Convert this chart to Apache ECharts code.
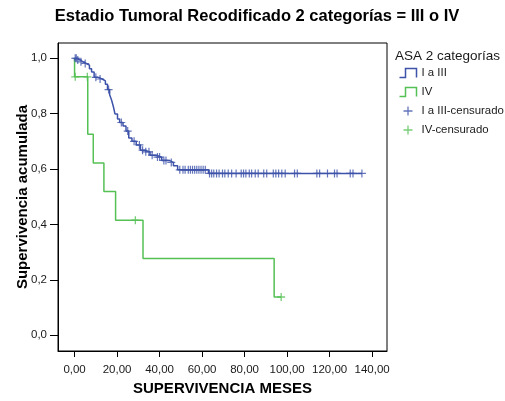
<!DOCTYPE html>
<html><head><meta charset="utf-8">
<script src="https://cdn.jsdelivr.net/npm/echarts@6/dist/echarts.min.js"></script>
<style>html,body{margin:0;padding:0;background:#fff}#c{width:505px;height:401px}</style>
</head><body><div id="c"></div>
<script>
// Kaplan-Meier step data: event times and survival after each event
var blueT = [0, 1, 2.5, 4, 5.5, 7, 8, 9.2, 11, 13, 14.5, 15.5, 16.5, 17.4, 18.3, 19, 20.2, 21.2, 22.8, 24.2, 25.5, 27, 29, 31, 33, 35.5, 38.5, 41, 44.5, 46.5, 48.5, 63, 135.2];
var blueS = [1.0, 0.994, 0.987, 0.981, 0.975, 0.962, 0.950, 0.931, 0.925, 0.918, 0.906, 0.887, 0.868, 0.849, 0.824, 0.799, 0.781, 0.768, 0.755, 0.737, 0.712, 0.700, 0.687, 0.668, 0.662, 0.650, 0.643, 0.631, 0.624, 0.612, 0.597, 0.584, 0.584];
var blueCens = [0.3, 0.8, 1.5, 3, 5, 10, 12, 16, 22, 25, 28, 30.5, 32, 33.5, 35, 36.5, 39, 40, 42, 43, 45.5, 49.5, 51, 52, 53.5, 54.5, 55.5, 56.5, 57.5, 58.5, 59.5, 60.5, 61.5,
  63.5, 64.5, 65.5, 66.8, 68, 69.6, 70.7, 72.3, 73.9, 76, 78.4, 79.5, 80.6, 82.2, 83.3, 85, 86.4, 89, 90.4, 93.5, 94.7, 96, 97.5, 99.1, 103.5, 104.8, 114, 115.3, 119, 122.3, 123.5, 129.7, 131, 135.2];
var greenT = [0, 0, 6.2, 8.8, 13.8, 19.3, 32.2, 93.9, 97.2];
var greenS = [1.0, 0.933, 0.726, 0.622, 0.519, 0.415, 0.277, 0.138, 0.138];
var greenCens = [0.3, 6.0, 28.6, 97.2];
var xTicks = [0, 20, 40, 60, 80, 100, 120, 140];
var yTicks = [0, 0.2, 0.4, 0.6, 0.8, 1.0];
var seriesNames = ['I a III', 'IV', 'I a III-censurado', 'IV-censurado'];

function zip(a, b) { return a.map(function (v, i) { return [v, b[i]]; }); }
function survAt(T, S, t) { var s = S[0]; for (var i = 0; i < T.length; i++) { if (T[i] <= t) s = S[i]; } return s; }
function censPts(T, S, C) { return C.map(function (t) { return [t, survAt(T, S, t)]; }); }

var BLUE = '#3d52a9', GREEN = '#55c155';
var stepIcon = 'path://M0,9L6,9L6,0L17,0L17,9';
var plusIcon = 'path://M0,5L10,5M5,0L5,10';
var plusSym = 'path://M0,4L8,4M4,0L4,8';
var FONT = 'Liberation Sans';

var chart = echarts.init(document.getElementById('c'));
chart.setOption({
  animation: false,
  backgroundColor: '#fff',
  title: [{
    text: 'Estadio Tumoral Recodificado 2 categorías = III o IV',
    left: 257, top: 8, textAlign: 'center', padding: 0,
    textStyle: { fontFamily: FONT, fontSize: 16.5, fontWeight: 'bold', color: '#000' }
  }, {
    text: 'ASA 2 categorías', left: 395, top: 49, padding: 0,
    textStyle: { fontFamily: FONT, fontSize: 13.5, fontWeight: 'normal', color: '#1a1a1a' }
  }],
  legend: {
    orient: 'vertical', left: 397, top: 66, padding: 0, itemWidth: 17, itemHeight: 9, itemGap: 5,
    textStyle: { fontFamily: FONT, fontSize: 11.4, color: '#1a1a1a' },
    data: [
      { name: seriesNames[0], icon: stepIcon, itemStyle: { color: 'none', borderColor: BLUE, borderWidth: 1.5 } },
      { name: seriesNames[1], icon: stepIcon, itemStyle: { color: 'none', borderColor: GREEN, borderWidth: 1.5 } },
      { name: seriesNames[2], icon: plusIcon, itemStyle: { color: 'none', borderColor: BLUE, borderWidth: 1.3 } },
      { name: seriesNames[3], icon: plusIcon, itemStyle: { color: 'none', borderColor: GREEN, borderWidth: 1.3 } }
    ]
  },
  grid: { left: 58, right: 118, top: 43, bottom: 50, show: true, borderColor: '#000', borderWidth: 1 },
  xAxis: {
    type: 'value', min: -7.8, max: 147,
    name: 'SUPERVIVENCIA MESES', nameLocation: 'middle', nameGap: 30, nameMoveOverlap: false,
    nameTextStyle: { fontFamily: FONT, fontSize: 15, fontWeight: 'bold', color: '#000' },
    axisLine: { show: true, onZero: false, lineStyle: { color: '#000' } },
    axisTick: { show: true, length: 6, customValues: xTicks, lineStyle: { color: '#000' } },
    axisLabel: { customValues: xTicks, margin: 13, fontFamily: FONT, fontSize: 11.5, color: '#1a1a1a',
      formatter: function (v) { return v.toFixed(2).replace('.', ','); } },
    splitLine: { show: false }
  },
  yAxis: {
    type: 'value', min: -0.057, max: 1.055,
    name: 'Supervivencia acumulada', nameLocation: 'middle', nameGap: 28, nameMoveOverlap: false,
    nameTextStyle: { fontFamily: FONT, fontSize: 15, fontWeight: 'bold', color: '#000' },
    axisLine: { show: true, onZero: false, lineStyle: { color: '#000' } },
    axisTick: { show: true, length: 8, customValues: yTicks, lineStyle: { color: '#000' } },
    axisLabel: { customValues: yTicks, margin: 11, fontFamily: FONT, fontSize: 11.5, color: '#1a1a1a',
      formatter: function (v) { return v.toFixed(1).replace('.', ','); } },
    splitLine: { show: false }
  },
  series: [
    { name: seriesNames[1], type: 'line', step: 'end', data: zip(greenT, greenS), showSymbol: false,
      lineStyle: { color: GREEN, width: 1.5 }, itemStyle: { color: GREEN }, z: 2 },
    { name: seriesNames[0], type: 'line', step: 'end', data: zip(blueT, blueS), showSymbol: false,
      lineStyle: { color: BLUE, width: 1.5 }, itemStyle: { color: BLUE }, z: 3 },
    { name: seriesNames[3], type: 'scatter', data: censPts(greenT, greenS, greenCens), symbol: plusSym, symbolSize: 8,
      itemStyle: { color: 'none', borderColor: GREEN, borderWidth: 1.3 }, z: 4 },
    { name: seriesNames[2], type: 'scatter', data: censPts(blueT, blueS, blueCens), symbol: plusSym, symbolSize: 8,
      itemStyle: { color: 'none', borderColor: BLUE, borderWidth: 1.2 }, z: 5 }
  ]
});
</script></body></html>
